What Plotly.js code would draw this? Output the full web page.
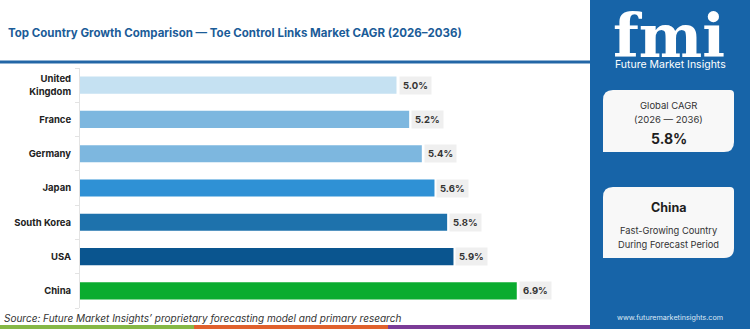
<!DOCTYPE html>
<html>
<head>
<meta charset="utf-8">
<script src="https://cdn.plot.ly/plotly-3.0.1.min.js"></script>
<style>
  html, body { margin: 0; padding: 0; background: #ffffff; }
  #chart { width: 750px; height: 329px; }
</style>
</head>
<body>
<div id="chart"></div>
<script>
// Country CAGR values, 2026–2036
const countries = ["United Kingdom", "France", "Germany", "Japan", "South Korea", "USA", "China"];
const countryTicks = ["United<br>Kingdom", "France", "Germany", "Japan", "South Korea", "USA", "China"];
const cagr = [5.0, 5.2, 5.4, 5.6, 5.8, 5.9, 6.9];
const barColors = ["#c5e1f2", "#7db7df", "#7db7df", "#2f91d5", "#1e72ac", "#0a558f", "#0aac2f"];

const globalCagr = 5.8;
const fastestCountry = "China";

// Canvas geometry (pixels) and helpers to place decorations in paper coordinates
const W = 750, H = 329;
const M = { l: 80, r: 160, t: 68, b: 21 };
const PW = W - M.l - M.r, PH = H - M.t - M.b;
const X = px => (px - M.l) / PW;
const Y = py => (H - M.b - py) / PH;

const FONT = "Inter, 'Open Sans', sans-serif";

// Rounded rectangle path with individual corner radii [tl, tr, br, bl]
function roundRect(x0, y0, x1, y1, r) {
  const [tl, tr, br, bl] = r;
  const sx = v => X(v), sy = v => Y(v);
  return "M" + sx(x0 + tl) + "," + sy(y0) +
    " L" + sx(x1 - tr) + "," + sy(y0) +
    " Q" + sx(x1) + "," + sy(y0) + " " + sx(x1) + "," + sy(y0 + tr) +
    " L" + sx(x1) + "," + sy(y1 - br) +
    " Q" + sx(x1) + "," + sy(y1) + " " + sx(x1 - br) + "," + sy(y1) +
    " L" + sx(x0 + bl) + "," + sy(y1) +
    " Q" + sx(x0) + "," + sy(y1) + " " + sx(x0) + "," + sy(y1 - bl) +
    " L" + sx(x0) + "," + sy(y0 + tl) +
    " Q" + sx(x0) + "," + sy(y0) + " " + sx(x0 + tl) + "," + sy(y0) + " Z";
}

const bars = {
  type: "bar",
  orientation: "h",
  x: cagr,
  y: countries,
  width: 0.5,
  marker: { color: barColors, line: { width: 0 } },
  hoverinfo: "x+y",
  showlegend: false
};

// Value labels on light boxes at the end of each bar
const valueLabels = countries.map((c, i) => ({
  x: cagr[i], y: c, xref: "x", yref: "y",
  xanchor: "left", yanchor: "middle", xshift: 2,
  text: cagr[i].toFixed(1) + "%",
  showarrow: false,
  bgcolor: "#efefef",
  borderpad: 3,
  font: { family: FONT, size: 9.5, color: "#333333", weight: 700 }
}));

const paperText = (x, y, text, opts) => Object.assign({
  x: X(x), y: Y(y), xref: "paper", yref: "paper",
  xanchor: "center", yanchor: "middle",
  text: text, showarrow: false
}, opts);

const sideTexts = [
  paperText(669, 36.5, "fmi", { borderpad: 0, font: { family: "'DejaVu Serif', serif", size: 60, color: "#ffffff", weight: 700 } }),
  paperText(670, 64, "Future Market Insights", { font: { family: FONT, size: 10.5, color: "#ffffff" } }),
  paperText(668.5, 105, "Global CAGR", { font: { family: FONT, size: 9.5, color: "#333333" } }),
  paperText(668.5, 119, "(2026 — 2036)", { font: { family: FONT, size: 9.5, color: "#333333" } }),
  paperText(668.5, 138, globalCagr.toFixed(1) + "%", { font: { family: FONT, size: 14, color: "#1e1e1e", weight: 700 } }),
  paperText(668.5, 208, fastestCountry, { font: { family: FONT, size: 12.5, color: "#1e1e1e", weight: 700 } }),
  paperText(668.5, 230, "Fast-Growing Country", { font: { family: FONT, size: 9.3, color: "#333333" } }),
  paperText(668.5, 244, "During Forecast Period", { font: { family: FONT, size: 9.3, color: "#333333" } }),
  paperText(670, 317, "www.futuremarketinsights.com", { font: { family: FONT, size: 7.2, color: "#dce8f5" } }),
  paperText(2, 318, "Source: Future Market Insights’ proprietary forecasting model and primary research",
    { xanchor: "left", font: { family: FONT, size: 10, color: "#333333", style: "italic" } })
];

const rect = (x0, y0, x1, y1, color) => ({
  type: "rect", xref: "paper", yref: "paper",
  x0: X(x0), x1: X(x1), y0: Y(y1), y1: Y(y0),
  fillcolor: color, line: { width: 0 }, layer: "below"
});

const shapes = [
  // side panel
  rect(590, 0, 750, 329, "#1764a8"),
  // heading rule
  { type: "line", xref: "paper", yref: "paper", x0: X(0), x1: X(590), y0: Y(62), y1: Y(62),
    line: { color: "#2366a6", width: 3 } },
  // info cards
  { type: "path", xref: "paper", yref: "paper", path: roundRect(603, 90, 734, 152, [10, 4, 10, 0]),
    fillcolor: "#f8f8f8", line: { width: 0 } },
  { type: "path", xref: "paper", yref: "paper", path: roundRect(603, 187, 734, 258, [10, 4, 10, 0]),
    fillcolor: "#f8f8f8", line: { width: 0 } },
  // footer colour strip
  rect(0, 325, 194, 329, "#86b846"),
  rect(194, 325, 388, 329, "#e0612d"),
  rect(388, 325, 590, 329, "#7b3c97")
];

const layout = {
  width: W, height: H,
  margin: M,
  paper_bgcolor: "#ffffff",
  plot_bgcolor: "#ffffff",
  title: {
    text: "Top Country Growth Comparison — Toe Control Links Market CAGR (2026–2036)",
    xref: "container", yref: "container",
    x: 8 / W, xanchor: "left",
    y: 1 - 33 / H, yanchor: "middle",
    font: { family: FONT, size: 11.5, color: "#1b5c98", weight: 700 }
  },
  xaxis: {
    range: [0, PW / 63.3],
    visible: false,
    fixedrange: true
  },
  yaxis: {
    autorange: "reversed",
    type: "category",
    tickmode: "array",
    tickvals: countries,
    ticktext: countryTicks,
    showline: true,
    linecolor: "#e3e3e3",
    linewidth: 1,
    ticks: "outside",
    tickson: "boundaries",
    ticklen: 4,
    tickcolor: "#e3e3e3",
    ticklabelstandoff: 6,
    showgrid: false,
    tickfont: { family: FONT, size: 9.5, color: "#222222", weight: 700 },
    fixedrange: true
  },
  bargap: 0.5,
  shapes: shapes,
  annotations: valueLabels.concat(sideTexts),
  showlegend: false
};

Plotly.newPlot("chart", [bars], layout, { displayModeBar: false, staticPlot: true });
</script>
</body>
</html>
